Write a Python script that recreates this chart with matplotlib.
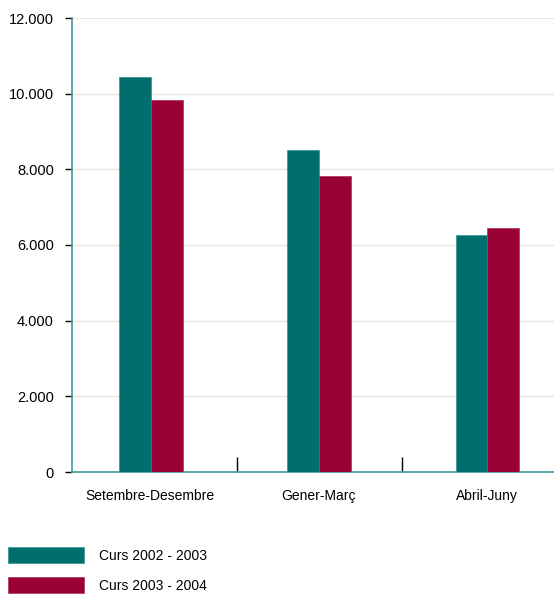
import matplotlib
matplotlib.use("Agg")
import matplotlib.pyplot as plt
import numpy as np
from matplotlib.ticker import FuncFormatter, FixedLocator

categories = ["Setembre-Desembre", "Gener-Març", "Abril-Juny"]
series_names = ["Curs 2002 - 2003", "Curs 2003 - 2004"]
curs_2002_2003 = [10440, 8510, 6260]
curs_2003_2004 = [9830, 7820, 6450]
yticks = [0, 2000, 4000, 6000, 8000, 10000, 12000]

teal = "#006e6e"
red = "#990033"

plt.rcParams['font.family'] = ['Liberation Sans', 'DejaVu Sans']

fig = plt.figure(figsize=(5.54, 5.96), dpi=100)
ax = fig.add_axes([72/554, 1 - 472/596, 1 - 72/554, (472 - 18)/596])

x = np.arange(len(categories))
w = 0.19
ax.bar(x - w/2 + 0.005, curs_2002_2003, width=w, color=teal, edgecolor="#3f9a9a", linewidth=0.6,
       label=series_names[0], zorder=3)
ax.bar(x + w/2 + 0.005, curs_2003_2004, width=w, color=red, edgecolor="#b0405f", linewidth=0.6,
       label=series_names[1], zorder=3)

ax.set_xlim(-0.463, 2.40)
ax.set_ylim(0, 12000)
ax.set_yticks(yticks)
ax.yaxis.set_major_formatter(FuncFormatter(lambda v, p: f"{int(v):,}".replace(",", ".")))
ax.grid(axis='y', color="#e9e4dc", linewidth=1.0, zorder=0)

ax.set_xticks(x)
ax.set_xticklabels(categories)
ax.xaxis.set_minor_locator(FixedLocator([0.52, 1.5]))
ax.tick_params(axis='x', which='major', length=0, pad=12, labelsize=10)
ax.tick_params(axis='x', which='minor', length=11, direction='in', color='black', width=1)
ax.tick_params(axis='y', length=5, color='black', width=1, labelsize=10.5, pad=8)

for s in ["top", "right"]:
    ax.spines[s].set_visible(False)
for s in ["left", "bottom"]:
    ax.spines[s].set_color("#3f9a9a")
    ax.spines[s].set_linewidth(1.2)

fig.legend(loc="upper left", bbox_to_anchor=(8/554, 1 - 547/596), frameon=False,
           fontsize=10, handlelength=5.47, handleheight=1.4, handletextpad=1.05,
           labelspacing=1.02, borderpad=0, borderaxespad=0)

fig.savefig("out.png", dpi=100)
